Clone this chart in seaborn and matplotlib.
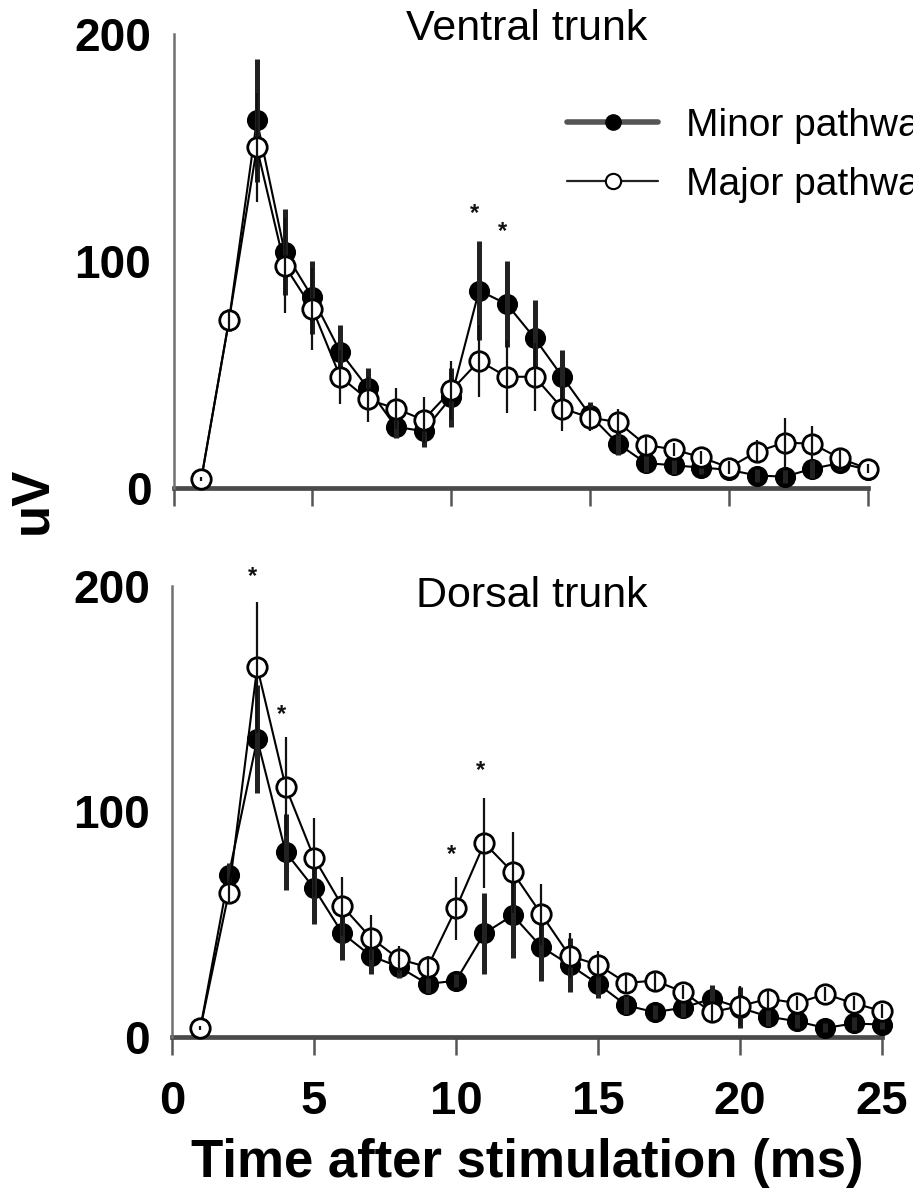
import numpy as np
import pandas as pd
import matplotlib
matplotlib.use("Agg")
import matplotlib.pyplot as plt
from matplotlib.lines import Line2D
import seaborn as sns

# ---------------- data ----------------
time = list(range(1, 26))

ventral_minor = [4, 74, 162, 104, 84, 60, 44, 27, 25, 40, 87, 81, 66, 49, 32, 19.5, 11, 10, 9, 8, 5.5, 5, 8.5, 11, 8]
ventral_minor_se = [0, 5, 27, 19, 16, 12, 9, 5, 7, 13, 22, 19, 17, 12, 6, 5, 4, 4, 3, 3, 3, 3, 4, 3, 2]
ventral_major = [4, 74, 150, 98, 79, 49, 39, 35, 30, 43, 56, 49, 49, 35, 31, 29, 19, 17, 13.5, 9, 16, 20, 19.5, 13, 8.5]
ventral_major_se = [1, 4, 24, 21, 18, 12, 10, 9, 10, 13, 16, 16, 15, 10, 6, 6, 4, 3, 3, 3, 5, 11, 8, 4, 2]

dorsal_minor = [4, 72, 132, 82, 66, 46, 36, 31, 23.5, 25, 46, 54, 40, 32, 23.5, 14, 11, 13, 17, 13, 9, 7, 4, 6, 5.5]
dorsal_minor_se = [0, 5, 24, 17, 16, 12, 8, 5, 4, 3, 18, 19, 15, 12, 6, 4, 3, 4, 6, 9, 4, 3, 2, 3, 2]
dorsal_major = [4, 64, 164, 111, 79.5, 58, 44, 34.5, 31, 57, 86, 73, 54.5, 36, 32, 24, 25, 20, 11, 13.7, 17, 15, 19, 15, 11.5]
dorsal_major_se = [1, 5, 29, 22, 17.5, 13, 10, 6, 5, 14, 20, 18, 13.5, 10, 6, 4, 4, 3, 4, 9, 4, 3, 3, 3, 3]

ventral_star_x = [11, 12]
ventral_star_y = [121, 113]
dorsal_star_x = [3, 4, 10, 11]
dorsal_star_y = [204, 143, 81, 118]

panel_titles = ["Ventral trunk", "Dorsal trunk"]
series_labels = ["Minor pathway", "Major pathway"]
x_ticks = [0, 5, 10, 15, 20, 25]
y_ticks = [0, 100, 200]
x_label = "Time after stimulation (ms)"
y_label = "uV"

# ---------------- style ----------------
sns.set_theme(style="white")
plt.rcParams['font.family'] = ['Liberation Sans', 'DejaVu Sans']
plt.rcParams['text.color'] = 'black'
plt.rcParams['xtick.color'] = 'black'
plt.rcParams['ytick.color'] = 'black'
plt.rcParams['axes.labelcolor'] = 'black'

fig = plt.figure(figsize=(9.13, 11.96), dpi=100)
W, H = 913, 1196

def fx(px):
    return px / W

def fy(py):
    return 1 - py / H

ax_top = fig.add_axes([fx(173.5), fy(488), fx(868) - fx(173.5), fy(34) - fy(488)])
ax_bot = fig.add_axes([fx(172), fy(1037), fx(882) - fx(172), fy(586) - fy(1037)])

def draw_panel(ax, minor, minor_se, major, major_se, sx, sy, title, title_xy, show_xlabels):
    # error bars
    ax.errorbar(time, minor, yerr=minor_se, fmt='none', ecolor='#222222',
                elinewidth=3.6, capsize=0, zorder=4, clip_on=False)
    ax.errorbar(time, major, yerr=major_se, fmt='none', ecolor='#111111',
                elinewidth=1.6, capsize=0, zorder=6, clip_on=False)
    df = pd.DataFrame({"time": time, "minor": minor, "major": major})
    sns.lineplot(data=df, x="time", y="minor", ax=ax, color='black', linewidth=1.5,
                 marker='o', markersize=14, markerfacecolor='black',
                 markeredgecolor='black', markeredgewidth=1.2, zorder=3, clip_on=False)
    sns.lineplot(data=df, x="time", y="major", ax=ax, color='black', linewidth=1.5,
                 marker='o', markersize=14, markerfacecolor='white',
                 markeredgecolor='black', markeredgewidth=2.0, zorder=5, clip_on=False)
    for x, y in zip(sx, sy):
        ax.text(x - 0.15, y, "*", ha='center', va='center', fontsize=17,
                fontweight='bold', color='#111111')
    ax.set_xlim(0, 25)
    ax.set_ylim(0, 200)
    ax.set_xticks(x_ticks)
    ax.set_yticks(y_ticks)
    ax.set_yticklabels([str(v) for v in y_ticks], fontsize=33, fontweight='bold')
    if show_xlabels:
        ax.set_xticklabels([str(v) for v in x_ticks], fontsize=34, fontweight='bold')
    else:
        ax.set_xticklabels([])
    ax.tick_params(axis='x', direction='out', length=13, width=1.8, color='#555555',
                   pad=18, bottom=True)
    ax.tick_params(axis='y', length=0, pad=16, left=True)
    ax.set_xlabel("")
    ax.set_ylabel("")
    sns.despine(ax=ax)
    ax.spines['bottom'].set_linewidth(3.4)
    ax.spines['bottom'].set_color('#4a4a4a')
    ax.spines['left'].set_linewidth(1.8)
    ax.spines['left'].set_color('#707070')
    ax.spines['bottom'].set_zorder(1)
    ax.grid(False)
    fig.text(fx(title_xy[0]), fy(title_xy[1]), title, ha='center', va='center',
             fontsize=31, color='black')

draw_panel(ax_top, ventral_minor, ventral_minor_se, ventral_major, ventral_major_se,
           ventral_star_x, ventral_star_y, panel_titles[0], (527, 29), False)
draw_panel(ax_bot, dorsal_minor, dorsal_minor_se, dorsal_major, dorsal_major_se,
           dorsal_star_x, dorsal_star_y, panel_titles[1], (532, 596), True)

ax_bot.set_xlabel(x_label, fontsize=38, fontweight='bold', labelpad=10)
fig.text(fx(32), fy(500), y_label, rotation=90, ha='center', va='center',
         fontsize=38, fontweight='bold')

handles = [
    Line2D([0], [0], color='#555555', linewidth=4, marker='o', markersize=11,
           markerfacecolor='black', markeredgecolor='black'),
    Line2D([0], [0], color='#222222', linewidth=1.6, marker='o', markersize=11,
           markerfacecolor='white', markeredgecolor='black', markeredgewidth=1.5),
]
ax_top.legend(handles, series_labels, loc='upper left',
              bbox_to_anchor=(fx(567), fy(108)), bbox_transform=fig.transFigure,
              frameon=False, fontsize=28, handlelength=2.35, handletextpad=0.7,
              labelspacing=0.58, borderpad=0, borderaxespad=0)

fig.savefig("out.png", dpi=100)
